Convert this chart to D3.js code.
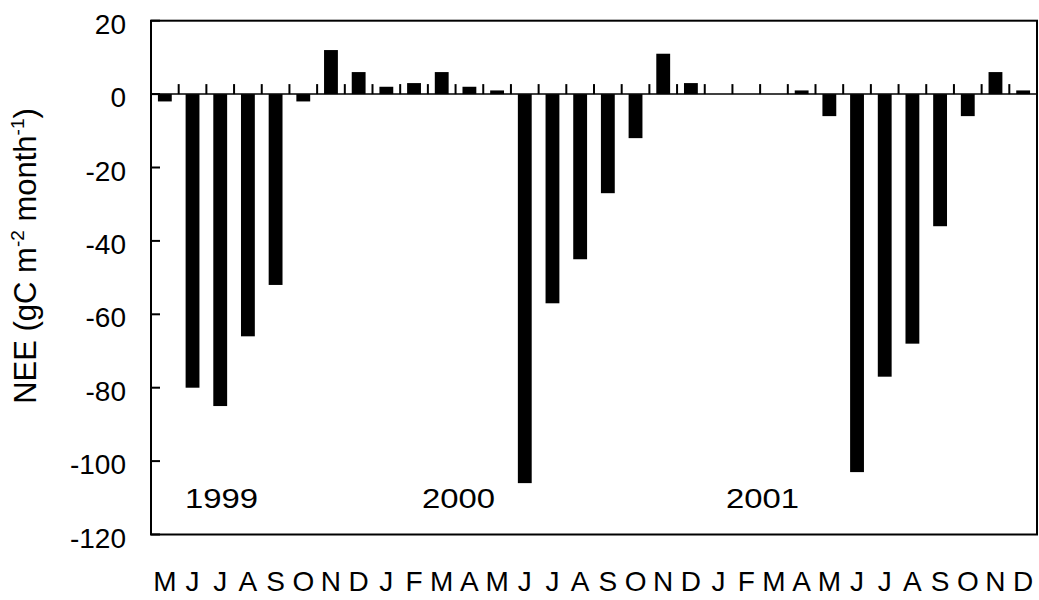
<!DOCTYPE html>
<html>
<head>
<meta charset="utf-8">
<script src="https://cdn.jsdelivr.net/npm/d3@7"></script>
<style>
  html, body { margin: 0; padding: 0; background: #fff; }
  svg { display: block; font-family: Arial, "Liberation Sans", sans-serif; }
</style>
</head>
<body>
<svg id="chart" width="1039" height="600"></svg>
<script>
const months = ["M","J","J","A","S","O","N","D",
                "J","F","M","A","M","J","J","A","S","O","N","D",
                "J","F","M","A","M","J","J","A","S","O","N","D"];
const nee = [-2, -80, -85, -66, -52, -2, 12, 6,
             2, 3, 6, 2, 1, -106, -57, -45, -27, -12, 11, 3,
             0, 0, 0, 1, -6, -103, -77, -68, -36, -6, 6, 1];
const yTicks = [20, 0, -20, -40, -60, -80, -100, -120];
const yearLabels = ["1999", "2000", "2001"];
const yearAt = [1.23, 9.79, 20.77]; // category position where each label starts

const svg = d3.select("#chart");
const L = 151, R = 1037, T = 20.7, B = 534.5;

const idx = months.map((m, i) => i);
const x = d3.scaleBand().domain(idx).range([L, R]).paddingInner(0.5).paddingOuter(0.25);
const y = d3.scaleLinear().domain([-120, 20]).range([B, T]);
const step = x.step();

// bars
svg.append("g").selectAll("rect").data(nee).join("rect")
  .attr("x", (d, i) => x(i))
  .attr("width", x.bandwidth())
  .attr("y", d => y(Math.max(0, d)))
  .attr("height", d => Math.abs(y(d) - y(0)))
  .attr("fill", "#000");

// zero line
svg.append("line").attr("x1", L).attr("x2", R).attr("y1", y(0)).attr("y2", y(0))
  .attr("stroke", "#000").attr("stroke-width", 1.5);

// category separator ticks on zero line (pointing up)
svg.append("g").selectAll("rect").data(idx.slice(1)).join("rect")
  .attr("x", i => x(i) - step * 0.25 - 1)
  .attr("y", y(0) - 10)
  .attr("width", 2)
  .attr("height", 10)
  .attr("fill", "#000");

// y ticks inward
svg.append("g").selectAll("rect").data(yTicks).join("rect")
  .attr("x", L)
  .attr("y", v => y(v) - 1)
  .attr("width", 9)
  .attr("height", 2)
  .attr("fill", "#000");

// y tick labels
svg.append("g").selectAll("text").data(yTicks).join("text")
  .attr("x", 126).attr("y", d => y(d) + 13)
  .attr("text-anchor", "end")
  .attr("font-size", 28)
  .text(d => d);

// frame
svg.append("rect").attr("x", L).attr("y", T).attr("width", R - L).attr("height", B - T)
  .attr("fill", "none").attr("stroke", "#000").attr("stroke-width", 2);

// month labels
svg.append("g").selectAll("text").data(months).join("text")
  .attr("x", (d, i) => x(i) + x.bandwidth() / 2)
  .attr("y", 591)
  .attr("text-anchor", "middle")
  .attr("font-size", 28)
  .text(d => d);

// year labels
svg.append("g").selectAll("text").data(yearLabels).join("text")
  .attr("x", (d, i) => L + yearAt[i] * step)
  .attr("y", 508)
  .attr("font-size", 28)
  .attr("textLength", 73)
  .attr("lengthAdjust", "spacingAndGlyphs")
  .text(d => d);

// y title
const title = svg.append("text")
  .attr("transform", "translate(36,256) rotate(-90)")
  .attr("text-anchor", "middle")
  .attr("font-size", 31);
title.append("tspan").text("NEE (gC m");
title.append("tspan").attr("font-size", 19).attr("dy", -12).text("-2");
title.append("tspan").attr("dy", 12).text(" month");
title.append("tspan").attr("font-size", 19).attr("dy", -12).text("-1");
title.append("tspan").attr("dy", 12).text(")");
</script>
</body>
</html>
